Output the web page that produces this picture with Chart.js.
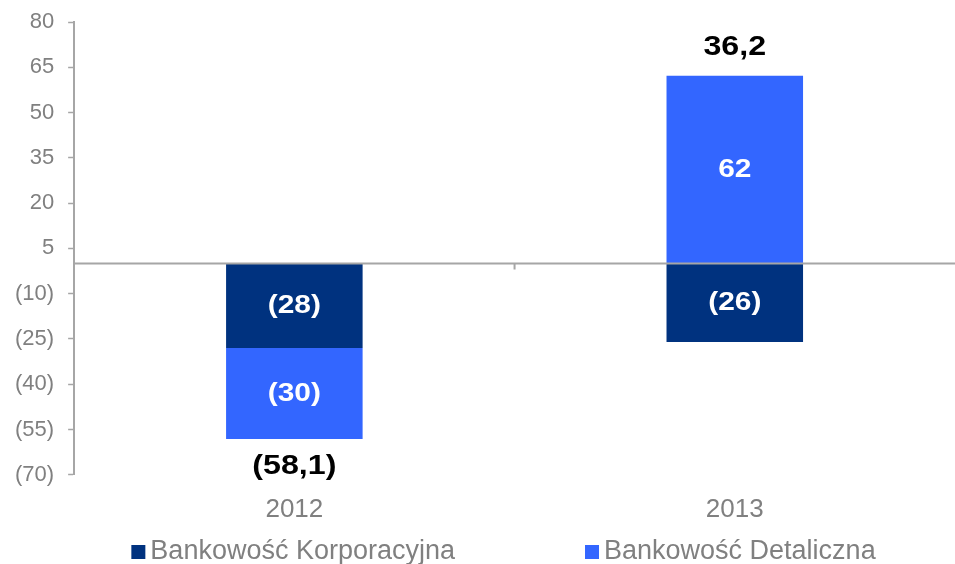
<!DOCTYPE html>
<html>
<head>
<meta charset="utf-8">
<script src="https://cdn.jsdelivr.net/npm/chart.js@4"></script>
<style>
  html, body { margin: 0; padding: 0; background: #fff; }
  #wrap { width: 955px; height: 564px; }
</style>
</head>
<body>
<div id="wrap"><canvas id="myChart"></canvas></div>
<script>
years = ['2012', '2013'];
korporacyjna = [-28.0, -26.0];
detaliczna = [-30.1, 62.2];
yTicks = [-70, -55, -40, -25, -10, 5, 20, 35, 50, 65, 80];

const FONT = '"Liberation Sans", Arial, sans-serif';

function fmt(v, dec) {
    const s = Math.abs(v).toFixed(dec).replace('.', ',');
    return v < 0 ? '(' + s + ')' : s;
}

// text is a bit wider than plain Arial in the original
function wideText(ctx, txt, x, y) {
    ctx.save();
    ctx.translate(x, y);
    ctx.scale(1.15, 1);
    ctx.fillText(txt, 0, 0);
    ctx.restore();
}

// zero line, value labels and the legend row
const barLabels = {
    id: 'barLabels',
    afterDatasetsDraw(chart) {
        const ctx = chart.ctx;
        const x = chart.scales.x, y = chart.scales.y;
        const area = chart.chartArea;
        const y0 = y.getPixelForValue(0);
        ctx.save();
        ctx.strokeStyle = '#a6a6a6';
        ctx.lineWidth = 2;
        ctx.beginPath();
        ctx.moveTo(area.left, y0);
        ctx.lineTo(area.right, y0);
        const mid = (x.getPixelForValue(0) + x.getPixelForValue(1)) / 2;
        ctx.moveTo(mid, y0);
        ctx.lineTo(mid, y0 + 6);
        ctx.stroke();

        ctx.textAlign = 'center';
        ctx.textBaseline = 'middle';
        ctx.font = 'bold 26px ' + FONT;
        ctx.fillStyle = '#ffffff';
        chart.data.datasets.forEach((ds, i) => {
            chart.getDatasetMeta(i).data.forEach((bar, j) => {
                wideText(ctx, fmt(ds.data[j], 0), bar.x, (bar.y + bar.base) / 2);
            });
        });

        ctx.font = 'bold 28px ' + FONT;
        ctx.fillStyle = '#000000';
        years.forEach((yr, j) => {
            const total = korporacyjna[j] + detaliczna[j];
            let pos = 0, neg = 0;
            [korporacyjna[j], detaliczna[j]].forEach(v => { if (v > 0) pos += v; else neg += v; });
            const px = x.getPixelForValue(j);
            if (total >= 0) wideText(ctx, fmt(total, 1), px, y.getPixelForValue(pos) - 28);
            else wideText(ctx, fmt(total, 1), px, y.getPixelForValue(neg) + 27);
        });

        // legend
        ctx.font = '27px ' + FONT;
        ctx.textAlign = 'left';
        const gap = 130, box = 14;
        const items = chart.data.datasets.map(ds => ({ text: ds.label, color: ds.backgroundColor, w: box + 5 + ctx.measureText(ds.label).width }));
        const totalW = items.reduce((s, it) => s + it.w, 0) + gap * (items.length - 1);
        let lx = (chart.width - totalW) / 2 + 26;
        const ly = 552;
        items.forEach(it => {
            ctx.fillStyle = it.color;
            ctx.fillRect(lx, ly - box / 2, box, box);
            ctx.fillStyle = '#808080';
            ctx.fillText(it.text, lx + box + 5, ly);
            lx += it.w + gap;
        });
        ctx.restore();
    }
};

new Chart(document.getElementById('myChart'), {
    type: 'bar',
    data: {
        labels: years,
        datasets: [{
            label: 'Bankowość Korporacyjna',
            data: korporacyjna,
            backgroundColor: '#00327F',
            categoryPercentage: 1,
            barPercentage: 0.31
        }, {
            label: 'Bankowość Detaliczna',
            data: detaliczna,
            backgroundColor: '#3366FF',
            categoryPercentage: 1,
            barPercentage: 0.31
        }]
    },
    options: {
        responsive: true,
        maintainAspectRatio: false,
        animation: false,
        layout: { padding: { top: 22, right: 0, left: 1, bottom: 28 } },
        scales: {
            x: {
                stacked: true,
                grid: { display: false },
                border: { display: false },
                ticks: {
                    color: '#808080',
                    padding: 11,
                    font: { family: FONT, size: 26 }
                }
            },
            y: {
                stacked: true,
                min: -70,
                max: 80,
                afterBuildTicks(axis) {
                    axis.ticks = yTicks.map(v => ({ value: v }));
                },
                afterFit(axis) {
                    axis.paddingTop = 0;
                    axis.paddingBottom = 0;
                },
                border: { color: '#a6a6a6', width: 2 },
                grid: {
                    drawOnChartArea: false,
                    drawTicks: true,
                    tickLength: 6,
                    tickColor: '#a6a6a6',
                    tickWidth: 1.5
                },
                ticks: {
                    color: '#808080',
                    padding: 14,
                    font: { family: FONT, size: 22 },
                    callback: v => fmt(v, 0)
                }
            }
        },
        plugins: {
            tooltip: { enabled: false },
            legend: { display: false }
        }
    },
    plugins: [barLabels]
});
</script>
</body>
</html>
